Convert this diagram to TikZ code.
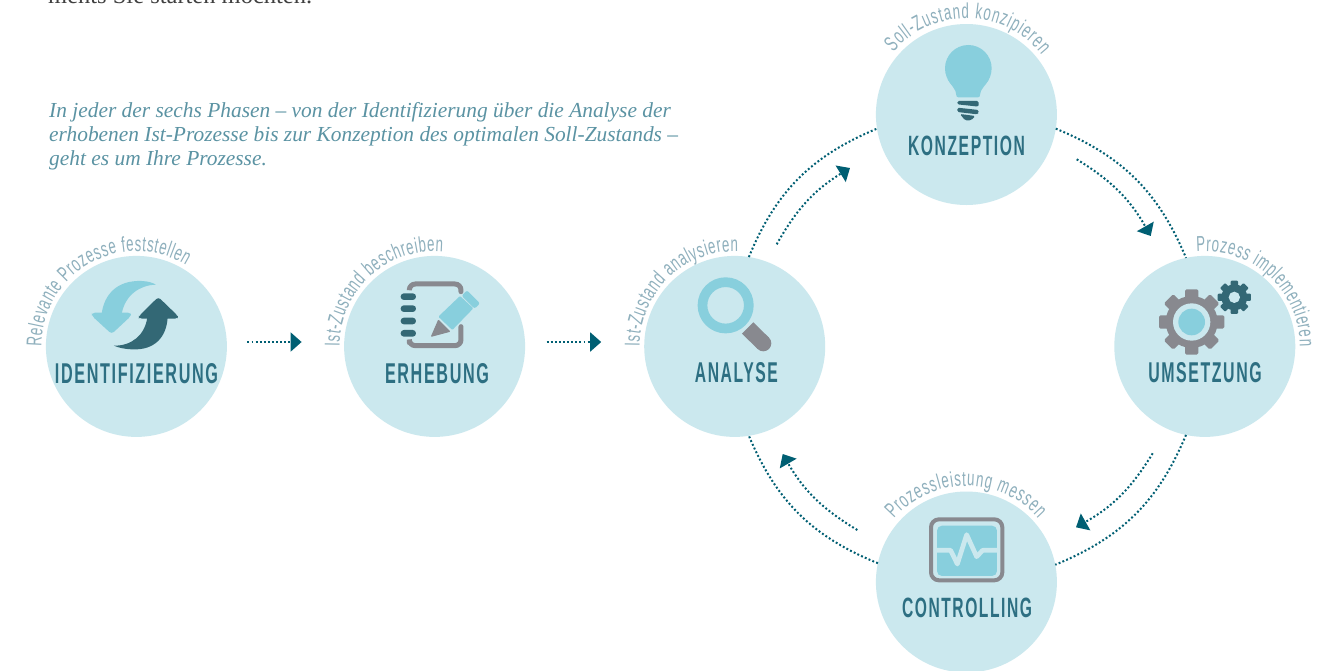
\documentclass[tikz,border=0pt]{standalone}
\usepackage{fontspec}
\usepackage{graphicx}
\usetikzlibrary{arrows.meta,decorations.text}
\setmainfont{Liberation Serif}
\newfontfamily\arcf[FakeStretch=0.62]{Liberation Sans}
\newfontfamily\lblb[LetterSpace=10]{Liberation Sans}
\definecolor{circ}{HTML}{CBE8EE}
\definecolor{lightb}{HTML}{88CFDD}
\definecolor{darkb}{HTML}{336875}
\definecolor{grayi}{HTML}{88898F}
\definecolor{dotc}{HTML}{005F73}
\definecolor{lblc}{HTML}{2D6F82}
\definecolor{arcc}{HTML}{8FB0BD}
\definecolor{parac}{HTML}{5B93A3}
\tikzset{
  phase/.style={circle,fill=circ,draw=none,minimum size=181pt,inner sep=0pt,outer sep=0pt},
  phlabel/.style={inner sep=0pt,outer sep=0pt,text=lblc},
  dotline/.style={draw=dotc,line width=2pt,line cap=butt,dash pattern=on 1.9pt off 2.2pt},
  dotarrow/.style={dotline,-{Triangle[length=11pt,width=19pt,fill=dotc]}},
  outerarc/.style={dotline,bend left=22.5},
  innerarc/.style={dotarrow,bend left=14.5}
}
\newcommand{\arclabel}[5]{%
  \path[decorate,decoration={text along path,text align={fit to path},
    text={|\arcf\fontsize{21.5}{21.5}\selectfont\color{arcc}|#5}}]
    ([shift={(#2:#4)}]#1.center) arc (#2:#3:#4);}
\newcommand{\lbltxt}[3]{\resizebox{#1pt}{#2pt}{\lblb\bfseries #3}}
\begin{document}
\begin{tikzpicture}[x=1pt,y=1pt]
\useasboundingbox (0,0) rectangle (1325,-670);
\clip (0,0) rectangle (1325,-670);
\fill[white] (0,0) rectangle (1325,-670);

\node[anchor=base west,inner sep=0pt,text=black!75,font=\fontsize{24.5}{24.5}\selectfont] (intro) at (48,-3.5) {ments Sie starten möchten.};
\node[anchor=base west,inner sep=0pt,text=parac,align=left,font=\fontsize{21.4}{24}\selectfont\itshape] (para) at (49,-165)
 {In jeder der sechs Phasen – von der Identifizierung über die Analyse der\\
  erhobenen Ist-Prozesse bis zur Konzeption des optimalen Soll-Zustands –\\
  geht es um Ihre Prozesse.};

\node[phase] (ide) at (136.4,-346.4) {};
\node[phase] (erh) at (434.6,-346.4) {};
\node[phase] (ana) at (734.7,-346.4) {};
\node[phase] (kon) at (966.4,-114.5) {};
\node[phase] (ume) at (1204.8,-346.4) {};
\node[phase] (con) at (966.4,-582) {};

\node[phlabel] (ideL) at (136.5,-374) {\lbltxt{163}{20}{IDENTIFIZIERUNG}};
\node[phlabel] (erhL) at (437,-374) {\lbltxt{104}{20}{ERHEBUNG}};
\node[phlabel] (anaL) at (736.4,-372.7) {\lbltxt{83}{20}{ANALYSE}};
\node[phlabel] (konL) at (966.5,-145.5) {\lbltxt{117}{19.5}{KONZEPTION}};
\node[phlabel] (umeL) at (1205,-372.7) {\lbltxt{113.5}{20}{UMSETZUNG}};
\node[phlabel] (conL) at (967,-608) {\lbltxt{130}{19.5}{CONTROLLING}};

\arclabel{ide}{180}{58.5}{95}{Relevante Prozesse feststellen}
\arclabel{erh}{180}{85}{95}{Ist-Zustand beschreiben}
\arclabel{ana}{180}{88}{95}{Ist-Zustand analysieren}
\arclabel{kon}{139.5}{38.5}{96}{Soll-Zustand konzipieren}
\arclabel{ume}{95}{0}{95}{Prozess implementieren}
\arclabel{con}{139}{41.5}{96}{Prozessleistung messen}

% straight connectors
\draw[dotarrow] ([shift={(20.5,4.4)}]ide.east) -- ([shift={(-42.5,4.4)}]erh.west);
\draw[dotarrow] ([shift={(21.5,4.4)}]erh.east) -- ([shift={(-43,4.4)}]ana.west);

% ring connectors
\coordinate (i1s) at (776.7,-244.3); \coordinate (i1e) at (850,-168);
\coordinate (i2s) at (1076.7,-159.3); \coordinate (i2e) at (1150.7,-236);
\coordinate (i3s) at (1152.7,-453.3); \coordinate (i3e) at (1076,-527.3);
\coordinate (i4s) at (857.3,-530); \coordinate (i4e) at (782.7,-454);
\draw[dotline] (ana.81) to[outerarc] (kon.189);
\draw[dotline] (kon.351) to[outerarc] (ume.102);
\draw[dotline] (ume.258) to[outerarc] (con.11);
\draw[dotline] (con.168) to[outerarc] (ana.279);
\draw[dotarrow] (i1s) to[innerarc] (i1e);
\draw[dotarrow] (i2s) to[innerarc] (i2e);
\draw[dotarrow] (i3s) to[innerarc] (i3e);
\draw[dotarrow] (i4s) to[innerarc] (i4e);

% icon: refresh arrows
\begin{scope}[shift={(0,-220)},x=.3333pt,y=-.3333pt]
\fill[lightb] (305,282) .. controls (312,225) and (350,180) .. (425,183) .. controls (445,184) and (458,188) .. (468,194) .. controls (420,195) and (375,225) .. (365,282) -- cycle;
\fill[lightb,rounded corners=3pt] (276,278) -- (393,278) -- (393,288) -- (335,342) -- (276,288) -- cycle;
\fill[darkb] (503,292) .. controls (500,350) and (465,392) .. (395,388) .. controls (372,387) and (355,383) .. (342,377) .. controls (395,378) and (435,345) .. (442,292) -- cycle;
\fill[darkb,rounded corners=3pt] (417,288) -- (475,231) -- (534,288) -- (534,296) -- (417,296) -- cycle;
\end{scope}

% icon: notebook and pencil
\begin{scope}[shift={(320,-220)},x=.3333pt,y=-.3333pt]
\draw[grayi,line width=5pt,line cap=round,rounded corners=6pt] (268,207) -- (268,192) -- (423,192) -- (423,215);
\draw[grayi,line width=5pt,line cap=round,rounded corners=6pt] (423,320) -- (423,377) -- (268,377) -- (268,368);
\foreach \yy in {230,266,303,340}
  \fill[darkb,rounded corners=3.2pt] (242,\yy-10) rectangle (288,\yy+10);
\fill[lightb,rounded corners=1pt] (355,290) -- (420,228) -- (460,265) -- (397,330) -- cycle;
\fill[lightb,rounded corners=2pt] (441,211) -- (480,250) -- (464,266) -- (425,227) -- cycle;
\fill[grayi,rounded corners=1pt] (355,298) -- (392,335) -- (332,351) -- cycle;
\end{scope}

% icon: magnifier
\begin{scope}[shift={(620,-230)},x=.3333pt,y=-.3333pt]
\draw[lightb,line width=9.7pt] (317,226) circle[radius=69.5];
\fill[grayi] (400,277) -- (366,311) -- (413,357) -- (447,323) -- cycle;
\fill[grayi] (430,340) circle[radius=24];
\end{scope}

% icon: light bulb
\begin{scope}[shift={(860,0)},x=.3333pt,y=-.3333pt]
\fill[lightb] (325,205) circle[radius=70];
\fill[lightb] (263,238) .. controls (272,255) and (289,268) .. (289,285) -- (360,285) .. controls (360,268) and (378,255) .. (387,238) -- cycle;
\fill[lightb,rounded corners=2pt] (289,275) rectangle (360,292);
\fill[darkb,rounded corners=1.5pt] (292,303) -- (356,303) -- (356,320) -- (292,313) -- cycle;
\fill[darkb,rounded corners=1.5pt] (292,323) -- (356,330) -- (356,339) -- (352,343) -- (292,336) -- cycle;
\fill[darkb,rounded corners=1.5pt] (300,342) -- (346,348) -- (333,361) -- (315,361) -- cycle;
\end{scope}

% icon: gears
\begin{scope}[shift={(1100,-230)},x=.3333pt,y=-.3333pt]
\fill[grayi] (275,276) circle[radius=78];
\foreach \a in {0,45,...,315}
  \fill[grayi,rounded corners=1.5pt,rotate around={\a:(275,276)}] (255,206) rectangle (295,178);
\fill[circ] (275,276) circle[radius=56];
\fill[lightb] (275,276) circle[radius=40];
\fill[darkb] (403,202) circle[radius=39];
\foreach \a in {0,45,...,315}
  \fill[darkb,rounded corners=1pt,rotate around={\a:(403,202)}] (392,172) rectangle (414,152);
\fill[circ] (403,202) circle[radius=17];
\end{scope}

% icon: monitor
\begin{scope}[shift={(860,-460)},x=.3333pt,y=-.3333pt]
\draw[grayi,line width=4pt,rounded corners=8pt] (213,178) rectangle (427,361);
\fill[lightb,rounded corners=5pt] (231,197) rectangle (411,348);
\draw[circ,line width=4.7pt,line join=round,line cap=round] (231,271) -- (272,271) -- (292,312) -- (320,224) -- (350,290) -- (368,271) -- (411,271);
\end{scope}
\end{tikzpicture}
\end{document}
